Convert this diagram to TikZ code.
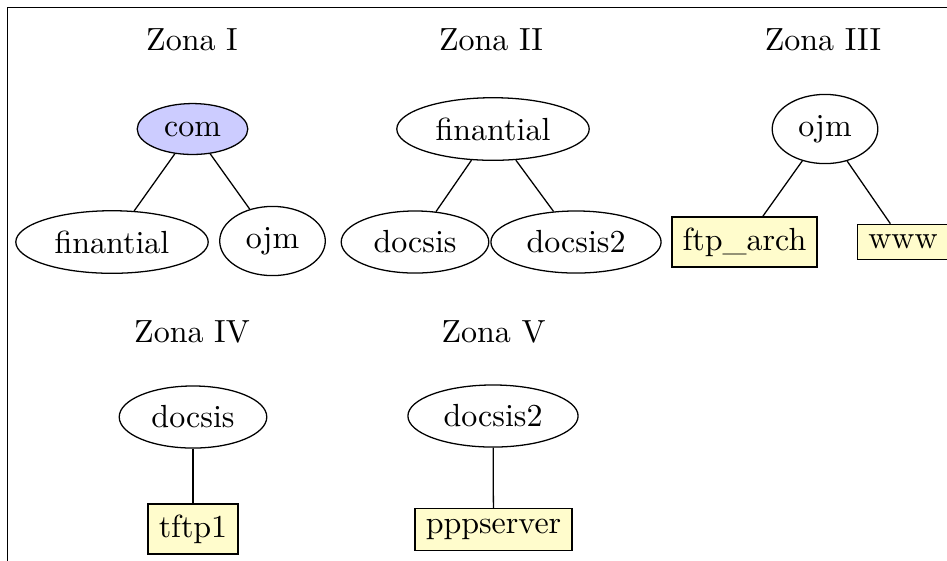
\documentclass[tikz,border=0pt]{standalone}
\usetikzlibrary{shapes.geometric}
\begin{document}
\begin{tikzpicture}[x=0.3125pt,y=-0.3125pt,
  ell/.style={draw,ellipse},
  srv/.style={draw,fill=yellow!20},
  zlab/.style={inner sep=0pt}]
\useasboundingbox (0,0) rectangle (947,560);
\draw (7.5,7.5) rectangle (1000,600);
% zone labels
\node[zlab] (z1) at (192,40) {Zona I};
\node[zlab] (z2) at (491,40) {Zona II};
\node[zlab] (z3) at (823,40) {Zona III};
\node[zlab] (z4) at (192,332) {Zona IV};
\node[zlab] (z5) at (493.5,332) {Zona V};
% zone I
\node[ell,fill=blue!20] (com) at (192.5,129) {com};
\node[ell] (fin1) at (112,242) {finantial};
\node[ell] (ojm1) at (272.5,241) {ojm};
% zone II
\node[ell] (fin2) at (493,129) {finantial};
\node[ell] (doc2) at (415,242) {docsis};
\node[ell] (doc22) at (576,242) {docsis2};
% zone III
\node[ell] (ojm3) at (825,129) {ojm};
\node[srv] (ftp) at (744.5,242) {ftp\_arch};
\node[srv] (www) at (903,242) {www};
% zone IV
\node[ell] (doc4) at (193,417) {docsis};
\node[srv] (tftp) at (193,529) {tftp1};
% zone V
\node[ell] (doc5) at (493,416) {docsis2};
\node[srv] (ppp) at (493.5,529.5) {pppserver};
% connectors
\draw (com) -- (fin1);
\draw (com) -- (ojm1);
\draw (fin2) -- (doc2);
\draw (fin2) -- (doc22);
\draw (ojm3) -- (ftp);
\draw (ojm3) -- (www);
\draw (doc4) -- (tftp);
\draw (doc5) -- (ppp);
\end{tikzpicture}
\end{document}
